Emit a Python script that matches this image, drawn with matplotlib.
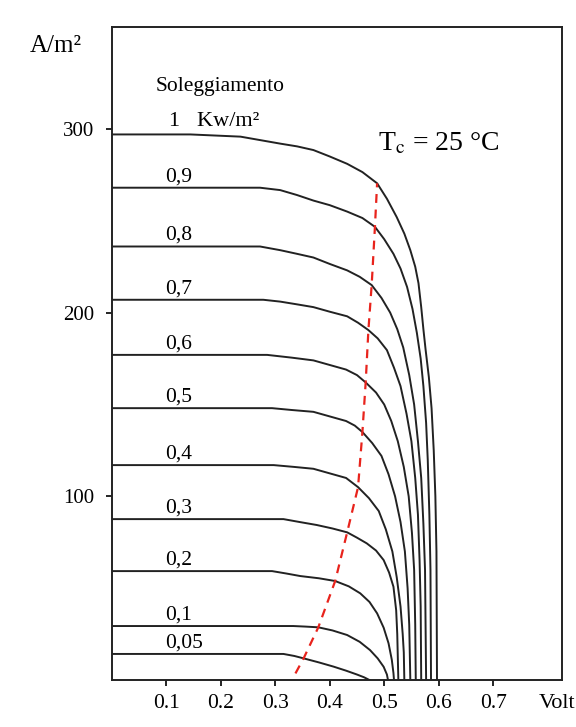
import matplotlib.pyplot as plt

plt.rcParams['font.family'] = ['Liberation Serif', 'DejaVu Serif']
plt.rcParams['mathtext.fontset'] = 'stix'

# I-V curves: volt / A per m^2
v_100 = [0, 0.144, 0.236, 0.309, 0.34, 0.37, 0.40, 0.432, 0.46, 0.487, 0.505, 0.523, 0.537,
         0.548, 0.557, 0.563, 0.568, 0.572, 0.576, 0.582, 0.587, 0.591, 0.594, 0.596, 0.597]
i_100 = [297, 297, 295.8, 292, 290.5, 288.5, 285, 281, 276.5, 270.4, 262, 252, 243,
         234, 225, 216, 203, 191, 180, 165, 148, 125, 100, 70, 0]
v_90 = [0, 0.272, 0.309, 0.34, 0.37, 0.40, 0.432, 0.46, 0.483, 0.50, 0.517, 0.53, 0.542,
        0.552, 0.56, 0.567, 0.572, 0.577, 0.58, 0.583, 0.585, 0.586]
i_90 = [268, 268, 266.7, 264, 261, 258.5, 255, 251.5, 246.7, 240, 232, 224, 214,
        202, 189, 175, 160, 140, 120, 90, 60, 0]
v_80 = [0, 0.272, 0.309, 0.34, 0.37, 0.40, 0.432, 0.455, 0.477, 0.495, 0.511, 0.524, 0.535,
        0.546, 0.555, 0.562, 0.568, 0.572, 0.575, 0.577]
i_80 = [236, 236, 234, 232, 230, 226.5, 223, 219.5, 215, 208, 200, 191, 181,
        166, 150, 130, 110, 85, 60, 0]
v_70 = [0, 0.278, 0.309, 0.34, 0.37, 0.40, 0.432, 0.452, 0.471, 0.488, 0.505, 0.518, 0.53,
        0.541, 0.55, 0.557, 0.562, 0.565, 0.567, 0.568]
i_70 = [207, 207, 206, 204.5, 203, 200.5, 198, 194.5, 190.5, 186, 179.6, 170, 160,
        145, 130, 110, 90, 65, 40, 0]
v_60 = [0, 0.285, 0.33, 0.37, 0.40, 0.43, 0.45, 0.466, 0.485, 0.5, 0.513, 0.525, 0.536,
        0.545, 0.551, 0.555, 0.557, 0.558]
i_60 = [177, 177, 175.5, 174, 171.5, 169, 166, 162, 156.5, 150, 141, 130, 116,
        100, 80, 60, 30, 0]
v_50 = [0, 0.294, 0.33, 0.37, 0.40, 0.43, 0.446, 0.46, 0.478, 0.495, 0.508, 0.52, 0.53,
        0.538, 0.543, 0.546, 0.548]
i_50 = [148, 148, 147, 146, 143.5, 141, 138.5, 135, 129, 122, 112, 100, 86,
        70, 50, 30, 0]
v_40 = [0, 0.297, 0.335, 0.37, 0.40, 0.43, 0.452, 0.472, 0.49, 0.503, 0.515, 0.523, 0.53,
        0.534, 0.536, 0.537]
i_40 = [117, 117, 116, 115, 112.5, 110, 105, 99, 92, 82, 70, 56, 40, 25, 15, 0]
v_30 = [0, 0.315, 0.345, 0.376, 0.405, 0.432, 0.45, 0.468, 0.485, 0.499, 0.509, 0.517,
        0.522, 0.524, 0.526]
i_30 = [87.6, 87.6, 86, 84.4, 82.5, 80.4, 77.5, 74.4, 70.5, 65.3, 58.5, 50.8, 38, 25, 0]
v_20 = [0, 0.294, 0.32, 0.346, 0.38, 0.41, 0.435, 0.456, 0.473, 0.487, 0.499, 0.508,
        0.514, 0.517, 0.518]
i_20 = [59.3, 59.3, 58, 56.6, 55.4, 53.9, 51, 47.2, 42.5, 36.3, 28.5, 20, 11, 3.8, 0]
v_10 = [0, 0.333, 0.355, 0.379, 0.405, 0.432, 0.455, 0.474, 0.488, 0.499, 0.505, 0.507]
i_10 = [29.4, 29.4, 29.1, 28.7, 27, 24.5, 20.8, 16.3, 11.8, 7.2, 3, 0]
v_05 = [0, 0.315, 0.335, 0.352, 0.38, 0.407, 0.43, 0.45, 0.463, 0.473]
i_05 = [14.2, 14.2, 13.1, 11.8, 9.6, 7.3, 5.1, 3, 1.5, 0]

curve_labels = ['0,9', '0,8', '0,7', '0,6', '0,5', '0,4', '0,3', '0,2', '0,1', '0,05']

# maximum power point locus (red dashed)
mpp_v = [0.337, 0.352, 0.379, 0.41, 0.432, 0.452, 0.46, 0.466, 0.471, 0.477, 0.483, 0.487]
mpp_i = [3.6, 11.8, 28.7, 53.9, 80.4, 105, 135, 162, 190.5, 215, 246.7, 270.4]

x_ticks = [0.1, 0.2, 0.3, 0.4, 0.5, 0.6, 0.7]
y_ticks = [100, 200, 300]

curves = [(v_100, i_100), (v_90, i_90), (v_80, i_80), (v_70, i_70), (v_60, i_60),
          (v_50, i_50), (v_40, i_40), (v_30, i_30), (v_20, i_20), (v_10, i_10), (v_05, i_05)]

fig = plt.figure(figsize=(5.76, 7.27), dpi=100)
ax = fig.add_axes([0.1944, 0.0646, 0.7813, 0.8983])

for v, i in curves:
    ax.plot(v, i, color='#222222', lw=1.4)
ax.plot(mpp_v, mpp_i, color='#e8231c', lw=1.6, ls=(0, (4, 3)))

# irradiance labels above each plateau
for lab, (v, i) in zip(curve_labels, curves[1:]):
    ax.text(0.097, i[0] + 6, lab, fontsize=15.5, ha='left', va='center')
ax.text(0.199, 323, 'Soleggiamento', fontsize=15.5, ha='center', va='center')
ax.text(0.187, 304, '1   Kw/m²', fontsize=16, ha='center', va='center')
ax.text(0.489, 292, r'T$_\mathrm{c}$ = 25 °C', fontsize=20, ha='left', va='center')

ax.set_xlim(0, 0.8266)
ax.set_ylim(0, 355.5)
ax.set_xticks(x_ticks)
ax.set_xticklabels([f'{t:.1f}' for t in x_ticks])
ax.set_yticks(y_ticks)
ax.tick_params(axis='x', direction='out', length=4, width=1.2, pad=6, labelsize=15.5)
ax.tick_params(axis='y', direction='out', length=4, width=1.2, pad=9, labelsize=15)
for s in ax.spines.values():
    s.set_linewidth(1.4)
    s.set_color('#222222')

fig.text(0.097, 0.937, 'A/m²', fontsize=18, ha='center', va='center')
fig.text(0.967, 0.032, 'Volt', fontsize=16, ha='center', va='center')

fig.savefig('out.png', dpi=100)
